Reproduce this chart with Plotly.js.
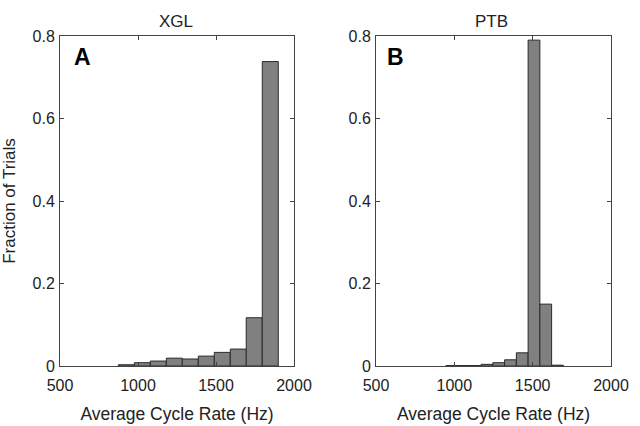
<!DOCTYPE html>
<html>
<head>
<meta charset="utf-8">
<script src="https://cdn.plot.ly/plotly-3.0.1.min.js"></script>
<style>html,body{margin:0;padding:0;background:#fff;}#chart{width:640px;height:426px;}</style>
</head>
<body>
<div id="chart"></div>
<script>
// XGL histogram (bin centers in Hz, fraction of trials)
const xglCenters = [925, 1028, 1130, 1233, 1335, 1438, 1540, 1643, 1745, 1848];
const xglValues  = [0.003, 0.008, 0.012, 0.019, 0.017, 0.024, 0.033, 0.041, 0.117, 0.738];
const xglBinWidth = 102.5;
// PTB histogram
const ptbCenters = [983.5, 1058.5, 1133.5, 1208.5, 1283.5, 1358.5, 1433.5, 1508.5, 1583.5, 1658.5];
const ptbValues  = [0.001, 0.001, 0.001, 0.004, 0.008, 0.015, 0.032, 0.790, 0.150, 0.002];
const ptbBinWidth = 75;
// axes
const xTicks = [500, 1000, 1500, 2000];
const yTicks = [0, 0.2, 0.4, 0.6, 0.8];
const panelTitles = ["XGL", "PTB"];
const panelLetters = ["A", "B"];
const xTitle = "Average Cycle Rate (Hz)";
const yTitle = "Fraction of Trials";

const FONT = "Liberation Sans, Arial, Helvetica, sans-serif";
const barStyle = {color: "#808080", line: {color: "#2a2a2a", width: 1}};

const traces = [
  {type: "bar", x: xglCenters, y: xglValues, width: xglCenters.map(() => xglBinWidth),
   marker: barStyle, xaxis: "x", yaxis: "y", hoverinfo: "x+y"},
  {type: "bar", x: ptbCenters, y: ptbValues, width: ptbCenters.map(() => ptbBinWidth),
   marker: barStyle, xaxis: "x2", yaxis: "y2", hoverinfo: "x+y"}
];

function xAxis(domain, anchor) {
  return {
    domain: domain, anchor: anchor, range: [500, 2000],
    tickvals: xTicks, ticktext: xTicks.map(String),
    ticks: "inside", ticklen: 4, tickcolor: "#444", mirror: "ticks",
    showline: true, linecolor: "#444", linewidth: 1,
    showgrid: false, zeroline: false,
    ticklabelstandoff: 5,
    tickfont: {family: FONT, size: 16, color: "#222"},
    title: {text: xTitle, font: {family: FONT, size: 17.5, color: "#222"}, standoff: 14},
    automargin: false
  };
}
function yAxis(domain, anchor, withTitle) {
  const a = {
    domain: domain, anchor: anchor, range: [0, 0.8],
    tickvals: yTicks, ticktext: yTicks.map(v => v === 0 ? "0" : v.toFixed(1)),
    ticks: "inside", ticklen: 4, tickcolor: "#444", mirror: "ticks",
    showline: true, linecolor: "#444", linewidth: 1,
    showgrid: false, zeroline: false,
    ticklabelstandoff: 1,
    tickfont: {family: FONT, size: 16, color: "#222"},
    automargin: false
  };
  if (withTitle) a.title = {text: yTitle, font: {family: FONT, size: 17, color: "#222"}, standoff: 12};
  return a;
}

const yDom = [60/426, 390/426];
const layout = {
  width: 640, height: 426,
  margin: {l: 0, r: 0, t: 0, b: 0},
  paper_bgcolor: "#fff", plot_bgcolor: "#fff",
  showlegend: false,
  bargap: 0,
  xaxis: xAxis([60/640, 294/640], "y"),
  yaxis: yAxis(yDom, "x", true),
  xaxis2: xAxis([376/640, 611/640], "y2"),
  yaxis2: yAxis(yDom, "x2", false),
  annotations: [
    {text: panelTitles[0], xref: "paper", yref: "paper", x: 176/640, y: 1 - 21/426,
     showarrow: false, xanchor: "center", yanchor: "middle", font: {family: FONT, size: 17, color: "#222"}},
    {text: panelTitles[1], xref: "paper", yref: "paper", x: 491/640, y: 1 - 21/426,
     showarrow: false, xanchor: "center", yanchor: "middle", font: {family: FONT, size: 17, color: "#222"}},
    {text: "<b>" + panelLetters[0] + "</b>", xref: "paper", yref: "paper", x: 82/640, y: 1 - 57/426,
     showarrow: false, xanchor: "center", yanchor: "middle", font: {family: FONT, size: 23, color: "#000"}},
    {text: "<b>" + panelLetters[1] + "</b>", xref: "paper", yref: "paper", x: 395/640, y: 1 - 57/426,
     showarrow: false, xanchor: "center", yanchor: "middle", font: {family: FONT, size: 23, color: "#000"}}
  ]
};

Plotly.newPlot("chart", traces, layout, {staticPlot: true, displayModeBar: false});
</script>
</body>
</html>
